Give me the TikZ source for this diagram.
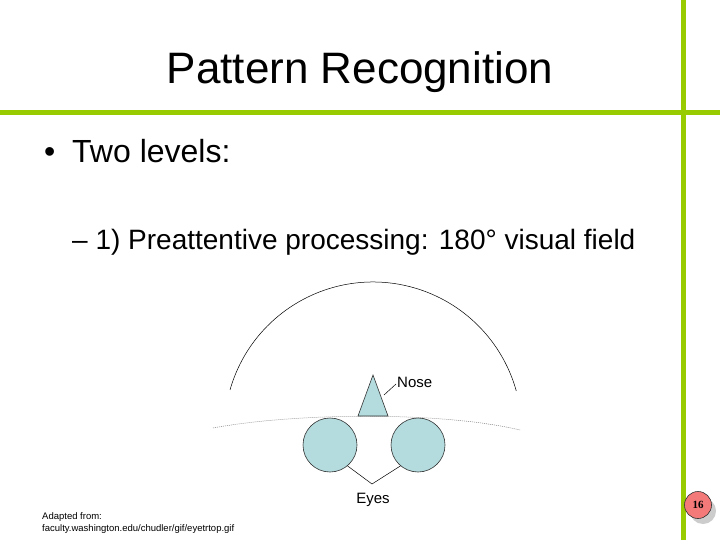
\documentclass[tikz,border=0pt]{standalone}
\usepackage{fontspec}
\setmainfont{Liberation Sans}
\newfontfamily\serifnum{Liberation Serif}
\definecolor{lime}{HTML}{99CC00}
\definecolor{eyefill}{HTML}{B4DCDF}
\definecolor{badge}{HTML}{F47A7A}
\begin{document}
\begin{tikzpicture}[x=1pt,y=-1pt,
  txt/.style={inner sep=0pt,anchor=base west},
  organ/.style={draw=black!80,fill=eyefill,line width=0.6pt},
  thin/.style={line width=0.5pt,black}]
\useasboundingbox (0,0) rectangle (720,540);
\fill[white] (0,0) rectangle (720,540);
% green rules
\fill[lime] (0,110) rectangle (720,115);
\fill[lime] (681,0) rectangle (686,540);
% title
\node[inner sep=0pt,anchor=base] (title) at (360,84) {\fontsize{44}{48}\selectfont Pattern Recognition};
\node[txt] (b1) at (44,163) {\fontsize{32}{36}\selectfont •};
\node[txt] (l1) at (72,163) {\fontsize{32}{36}\selectfont Two levels:};
\node[txt] (l2) at (72,249) {\fontsize{28}{32}\selectfont – 1) Preattentive processing: 180° visual field};
% field arc
\draw[thin] (373,430.7) ++(195.9:148.7) arc[start angle=195.9,end angle=344.5,radius=148.7];
% dotted horizon
\draw[gray,dash pattern=on 1pt off 1pt,line width=0.5pt] (213,428) .. controls (300,412) and (445,412) .. (520,430);
% nose and eyes
\path[organ] (373,375) -- (388,416) -- (358,416) -- cycle;
\node[organ,circle,minimum size=54pt,inner sep=0pt] (eyeL) at (330,445) {};
\node[organ,circle,minimum size=54pt,inner sep=0pt] (eyeR) at (418,445) {};
\node[txt] (nlab) at (397,387) {\fontsize{15}{17}\selectfont Nose};
\coordinate (nl1) at (384,395);
\coordinate (nl2) at (396,384);
\draw[thin] (nl1) -- (nl2);
\node[inner sep=0pt,anchor=base] (elab) at (373,503) {\fontsize{15}{17}\selectfont Eyes};
\coordinate (ej) at (372,484);
\draw[thin] (eyeL.-50) -- (ej) -- (eyeR.-130);
% caption
\node[txt] (c1) at (42,519) {\fontsize{9.5}{11}\selectfont Adapted from:};
\node[txt] (c2) at (42,531) {\fontsize{9.5}{11}\selectfont faculty.washington.edu/chudler/gif/eyetrtop.gif};
% page badge
\fill[gray!40] (703,511) circle (13);
\node[circle,draw=black!80,fill=badge,minimum size=27pt,inner sep=0pt,line width=0.6pt] (pg) at (698,505) {\serifnum\bfseries\fontsize{11}{12}\selectfont 16};
\end{tikzpicture}
\end{document}
